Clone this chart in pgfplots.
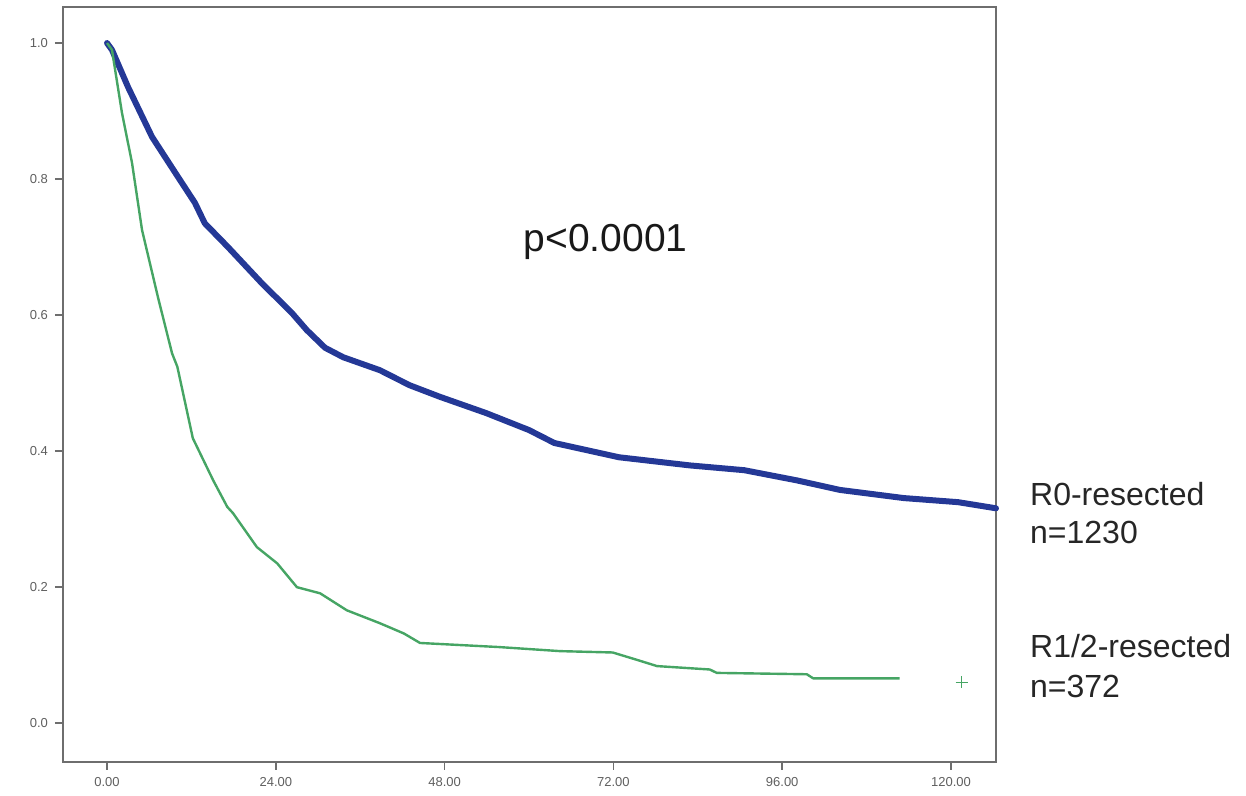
\documentclass[border=0pt]{standalone}
\usepackage{fontspec}
\setmainfont{Liberation Sans}
\usepackage{pgfplots}
\pgfplotsset{compat=1.18}
\definecolor{kmblue}{RGB}{36,56,150}
\definecolor{kmgreen}{RGB}{70,165,100}
\definecolor{axgray}{RGB}{110,110,110}
\definecolor{lblgray}{RGB}{95,95,95}
\begin{document}
\begin{tikzpicture}
\begin{axis}[
  scale only axis,
  width=466.5pt, height=377.5pt,
  xmin=-6.26, xmax=126.4,
  ymin=-0.057, ymax=1.053,
  clip=false,
  axis line style={axgray, line width=1pt},
  xtick={0,24,48,72,96,120},
  ytick={0,0.2,0.4,0.6,0.8,1.0},
  tick align=outside,
  tick pos=left,
  major tick length=4pt,
  tick style={axgray, line width=0.8pt},
  /pgf/number format/assume math mode=true,
  xticklabel style={/pgf/number format/.cd, fixed, fixed zerofill, precision=2, /tikz/.cd, font=\fontsize{6.5}{7}\selectfont, text=lblgray},
  yticklabel style={/pgf/number format/.cd, fixed, fixed zerofill, precision=1, /tikz/.cd, font=\fontsize{6.5}{7}\selectfont, text=lblgray},
]
\addplot[kmblue, line width=3pt, line join=round, line cap=round] coordinates {
(0,1.0) (0.7,0.99) (3.0,0.935) (6.4,0.862) (10.1,0.803) (12.5,0.765)
(13.9,0.735) (17.2,0.70) (22.0,0.647) (26.3,0.603) (28.4,0.578)
(31,0.552) (33.6,0.538) (38.8,0.519) (43,0.497) (47.3,0.480)
(53.9,0.456) (60.0,0.431) (63.6,0.412) (72.8,0.391) (82.9,0.379)
(90.6,0.372) (98.1,0.357) (104.2,0.343) (113.3,0.331) (121.0,0.325)
(126.4,0.316)
};
\addplot[kmgreen, line width=1.2pt, line join=round] coordinates {
(0,1.0) (0.7,0.99) (2.13,0.897) (3.55,0.824) (4.98,0.725) (7.25,0.626)
(9.24,0.544) (10.0,0.524) (12.2,0.419) (15.1,0.357) (17.1,0.318)
(17.9,0.309) (21.3,0.259) (24.2,0.235) (27.0,0.200) (30.3,0.191)
(34.1,0.166) (38.8,0.147) (42.2,0.132) (44.5,0.118) (55.7,0.112)
(64.4,0.106) (71.9,0.104) (75.4,0.093) (78.2,0.084) (85.7,0.079)
(86.7,0.074) (99.5,0.072) (100.4,0.066) (112.7,0.066)
};
\addplot[only marks, mark=+, mark size=3pt, kmgreen, line width=0.8pt] coordinates {(121.5,0.060)};
\node[font=\fontsize{19.5}{22}\selectfont, text=black!90] at (axis cs:70.9,0.708) {p<0.0001};
\node[anchor=base west, font=\fontsize{16}{18}\selectfont, text=black!85, inner sep=0pt] at (axis cs:131.2,0.3206) {R0-resected};
\node[anchor=base west, font=\fontsize{16}{18}\selectfont, text=black!85, inner sep=0pt] at (axis cs:131.2,0.2647) {n=1230};
\node[anchor=base west, font=\fontsize{16}{18}\selectfont, text=black!85, inner sep=0pt] at (axis cs:131.2,0.097) {R1/2-resected};
\node[anchor=base west, font=\fontsize{16}{18}\selectfont, text=black!85, inner sep=0pt] at (axis cs:131.2,0.038) {n=372};
\coordinate (bl) at (rel axis cs:0,0);
\coordinate (tr) at (rel axis cs:1,1);
\end{axis}
\pgfresetboundingbox
\path[use as bounding box] ([shift={(-31.5pt,-17pt)}]bl) rectangle ([shift={(125pt,3.5pt)}]tr);
\end{tikzpicture}
\end{document}
